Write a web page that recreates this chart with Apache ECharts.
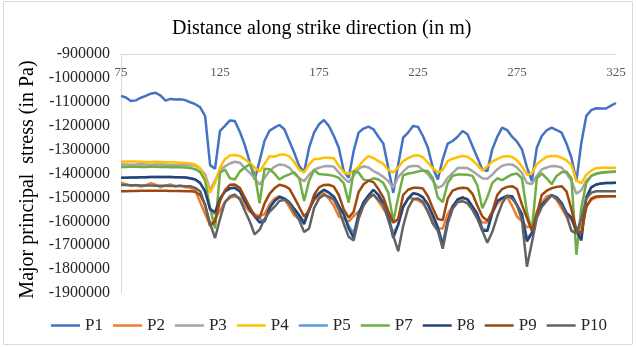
<!DOCTYPE html>
<html>
<head>
<meta charset="utf-8">
<script src="https://cdn.jsdelivr.net/npm/echarts@6/dist/echarts.min.js"></script>
<style>
  html, body { margin: 0; padding: 0; background: #fff; }
  #chart { width: 636px; height: 347px; }
</style>
</head>
<body>
<div id="chart"></div>
<script>
// distance along strike (m)
var distance = [
  75, 77.5, 80, 82.5, 85, 87.5, 90, 92.5, 95, 97.5,
  100, 102.5, 105, 107.5, 110, 112.5, 115, 117.5, 120, 122.5,
  125, 127.5, 130, 132.5, 135, 137.5, 140, 142.5, 145, 147.5,
  150, 152.5, 155, 157.5, 160, 162.5, 165, 167.5, 170, 172.5,
  175, 177.5, 180, 182.5, 185, 187.5, 190, 192.5, 195, 197.5,
  200, 202.5, 205, 207.5, 210, 212.5, 215, 217.5, 220, 222.5,
  225, 227.5, 230, 232.5, 235, 237.5, 240, 242.5, 245, 247.5,
  250, 252.5, 255, 257.5, 260, 262.5, 265, 267.5, 270, 272.5,
  275, 277.5, 280, 282.5, 285, 287.5, 290, 292.5, 295, 297.5,
  300, 302.5, 305, 307.5, 310, 312.5, 315, 317.5, 320, 322.5,
  325
];
var xTicks = [75, 125, 175, 225, 275, 325];

// major principal stress (Pa)
var p1 = [
  -1075e3, -1082e3, -1097e3, -1094e3, -1083e3, -1075e3, -1066e3, -1062e3, -1074e3, -1095e3,
  -1088e3, -1090e3, -1089e3, -1093e3, -1102e3, -1110e3, -1123e3, -1160e3, -1365e3, -1380e3,
  -1222e3, -1201e3, -1178e3, -1180e3, -1225e3, -1280e3, -1351e3, -1425e3, -1347e3, -1263e3,
  -1221e3, -1208e3, -1197e3, -1215e3, -1264e3, -1313e3, -1369e3, -1393e3, -1292e3, -1229e3,
  -1194e3, -1176e3, -1201e3, -1243e3, -1292e3, -1390e3, -1418e3, -1306e3, -1229e3, -1212e3,
  -1204e3, -1215e3, -1246e3, -1275e3, -1376e3, -1481e3, -1362e3, -1250e3, -1229e3, -1201e3,
  -1205e3, -1243e3, -1292e3, -1376e3, -1425e3, -1341e3, -1275e3, -1264e3, -1246e3, -1222e3,
  -1236e3, -1285e3, -1334e3, -1383e3, -1390e3, -1299e3, -1247e3, -1208e3, -1218e3, -1246e3,
  -1267e3, -1299e3, -1373e3, -1432e3, -1292e3, -1243e3, -1219e3, -1208e3, -1218e3, -1229e3,
  -1275e3, -1334e3, -1432e3, -1271e3, -1159e3, -1135e3, -1127e3, -1128e3, -1128e3, -1116e3,
  -1105e3
];
var p2 = [
  -1439e3, -1445e3, -1452e3, -1448e3, -1455e3, -1450e3, -1440e3, -1447e3, -1458e3, -1450e3,
  -1446e3, -1455e3, -1450e3, -1458e3, -1460e3, -1470e3, -1520e3, -1570e3, -1615e3, -1590e3,
  -1555e3, -1520e3, -1502e3, -1495e3, -1502e3, -1535e3, -1560e3, -1572e3, -1578e3, -1570e3,
  -1530e3, -1505e3, -1495e3, -1505e3, -1540e3, -1575e3, -1590e3, -1600e3, -1550e3, -1512e3,
  -1495e3, -1482e3, -1505e3, -1535e3, -1580e3, -1590e3, -1600e3, -1578e3, -1560e3, -1530e3,
  -1505e3, -1488e3, -1515e3, -1548e3, -1578e3, -1605e3, -1590e3, -1540e3, -1503e3, -1505e3,
  -1512e3, -1525e3, -1558e3, -1595e3, -1630e3, -1630e3, -1570e3, -1535e3, -1515e3, -1505e3,
  -1508e3, -1545e3, -1578e3, -1605e3, -1605e3, -1565e3, -1528e3, -1505e3, -1498e3, -1535e3,
  -1580e3, -1600e3, -1625e3, -1620e3, -1560e3, -1522e3, -1495e3, -1492e3, -1510e3, -1545e3,
  -1580e3, -1592e3, -1640e3, -1625e3, -1540e3, -1510e3, -1500e3, -1497e3, -1496e3, -1495e3,
  -1495e3
];
var p3 = [
  -1362e3, -1362e3, -1363e3, -1362e3, -1361e3, -1362e3, -1363e3, -1362e3, -1362e3, -1363e3,
  -1364e3, -1364e3, -1365e3, -1365e3, -1366e3, -1367e3, -1380e3, -1404e3, -1470e3, -1430e3,
  -1385e3, -1370e3, -1358e3, -1351e3, -1355e3, -1376e3, -1397e3, -1420e3, -1446e3, -1418e3,
  -1390e3, -1372e3, -1362e3, -1365e3, -1375e3, -1400e3, -1420e3, -1432e3, -1405e3, -1385e3,
  -1376e3, -1370e3, -1369e3, -1372e3, -1395e3, -1418e3, -1437e3, -1410e3, -1380e3, -1370e3,
  -1375e3, -1390e3, -1400e3, -1414e3, -1432e3, -1460e3, -1415e3, -1392e3, -1372e3, -1369e3,
  -1369e3, -1385e3, -1403e3, -1430e3, -1460e3, -1450e3, -1418e3, -1398e3, -1377e3, -1376e3,
  -1377e3, -1390e3, -1405e3, -1420e3, -1422e3, -1405e3, -1383e3, -1368e3, -1362e3, -1362e3,
  -1375e3, -1398e3, -1440e3, -1444e3, -1410e3, -1383e3, -1375e3, -1369e3, -1370e3, -1375e3,
  -1400e3, -1430e3, -1485e3, -1470e3, -1430e3, -1410e3, -1402e3, -1398e3, -1396e3, -1394e3,
  -1393e3
];
var p4 = [
  -1351e3, -1350e3, -1350e3, -1350e3, -1351e3, -1352e3, -1352e3, -1351e3, -1352e3, -1353e3,
  -1353e3, -1354e3, -1355e3, -1356e3, -1358e3, -1362e3, -1378e3, -1420e3, -1481e3, -1440e3,
  -1375e3, -1340e3, -1325e3, -1323e3, -1327e3, -1340e3, -1355e3, -1375e3, -1392e3, -1360e3,
  -1328e3, -1330e3, -1322e3, -1320e3, -1328e3, -1352e3, -1385e3, -1395e3, -1362e3, -1340e3,
  -1338e3, -1334e3, -1334e3, -1336e3, -1368e3, -1395e3, -1402e3, -1390e3, -1372e3, -1345e3,
  -1327e3, -1335e3, -1348e3, -1360e3, -1385e3, -1395e3, -1375e3, -1348e3, -1336e3, -1326e3,
  -1324e3, -1332e3, -1355e3, -1378e3, -1396e3, -1385e3, -1348e3, -1338e3, -1332e3, -1327e3,
  -1330e3, -1345e3, -1365e3, -1388e3, -1370e3, -1350e3, -1340e3, -1330e3, -1327e3, -1331e3,
  -1345e3, -1370e3, -1405e3, -1400e3, -1360e3, -1345e3, -1330e3, -1327e3, -1327e3, -1334e3,
  -1345e3, -1365e3, -1430e3, -1440e3, -1405e3, -1388e3, -1377e3, -1376e3, -1376e3, -1376e3,
  -1376e3
];
var p5 = [
  -1418e3, -1418e3, -1417e3, -1417e3, -1416e3, -1416e3, -1415e3, -1415e3, -1415e3, -1415e3,
  -1415e3, -1416e3, -1416e3, -1417e3, -1420e3, -1425e3, -1440e3, -1475e3, -1545e3, -1570e3,
  -1505e3, -1475e3, -1462e3, -1460e3, -1474e3, -1515e3, -1550e3, -1570e3, -1590e3, -1600e3,
  -1545e3, -1515e3, -1498e3, -1505e3, -1520e3, -1548e3, -1575e3, -1600e3, -1552e3, -1505e3,
  -1484e3, -1468e3, -1480e3, -1497e3, -1535e3, -1570e3, -1620e3, -1650e3, -1570e3, -1520e3,
  -1492e3, -1468e3, -1490e3, -1525e3, -1580e3, -1650e3, -1614e3, -1540e3, -1505e3, -1483e3,
  -1487e3, -1500e3, -1530e3, -1575e3, -1625e3, -1690e3, -1600e3, -1540e3, -1508e3, -1500e3,
  -1508e3, -1538e3, -1570e3, -1630e3, -1640e3, -1565e3, -1515e3, -1503e3, -1494e3, -1495e3,
  -1532e3, -1570e3, -1670e3, -1650e3, -1575e3, -1530e3, -1510e3, -1490e3, -1500e3, -1523e3,
  -1565e3, -1585e3, -1640e3, -1670e3, -1500e3, -1458e3, -1446e3, -1442e3, -1440e3, -1440e3,
  -1439e3
];
var p7 = [
  -1373e3, -1373e3, -1372e3, -1372e3, -1373e3, -1373e3, -1372e3, -1372e3, -1373e3, -1373e3,
  -1374e3, -1374e3, -1374e3, -1375e3, -1377e3, -1382e3, -1394e3, -1430e3, -1545e3, -1630e3,
  -1397e3, -1383e3, -1420e3, -1425e3, -1392e3, -1375e3, -1362e3, -1400e3, -1525e3, -1380e3,
  -1382e3, -1400e3, -1425e3, -1412e3, -1404e3, -1395e3, -1420e3, -1515e3, -1430e3, -1385e3,
  -1402e3, -1404e3, -1406e3, -1410e3, -1418e3, -1440e3, -1522e3, -1390e3, -1396e3, -1425e3,
  -1430e3, -1420e3, -1425e3, -1440e3, -1480e3, -1600e3, -1500e3, -1408e3, -1400e3, -1397e3,
  -1392e3, -1388e3, -1390e3, -1420e3, -1500e3, -1520e3, -1440e3, -1410e3, -1404e3, -1404e3,
  -1405e3, -1410e3, -1450e3, -1545e3, -1500e3, -1440e3, -1420e3, -1428e3, -1415e3, -1404e3,
  -1400e3, -1420e3, -1560e3, -1640e3, -1420e3, -1400e3, -1420e3, -1445e3, -1410e3, -1395e3,
  -1393e3, -1420e3, -1740e3, -1543e3, -1440e3, -1410e3, -1400e3, -1396e3, -1394e3, -1393e3,
  -1392e3
];
var p8 = [
  -1418e3, -1418e3, -1417e3, -1417e3, -1416e3, -1416e3, -1415e3, -1415e3, -1415e3, -1415e3,
  -1415e3, -1416e3, -1416e3, -1417e3, -1420e3, -1425e3, -1440e3, -1475e3, -1550e3, -1562e3,
  -1505e3, -1475e3, -1462e3, -1460e3, -1474e3, -1515e3, -1550e3, -1580e3, -1605e3, -1600e3,
  -1545e3, -1515e3, -1498e3, -1505e3, -1520e3, -1548e3, -1575e3, -1612e3, -1552e3, -1505e3,
  -1484e3, -1468e3, -1480e3, -1497e3, -1535e3, -1570e3, -1630e3, -1670e3, -1570e3, -1520e3,
  -1492e3, -1468e3, -1490e3, -1525e3, -1580e3, -1670e3, -1614e3, -1540e3, -1505e3, -1483e3,
  -1487e3, -1500e3, -1530e3, -1575e3, -1625e3, -1705e3, -1600e3, -1540e3, -1508e3, -1500e3,
  -1508e3, -1538e3, -1570e3, -1640e3, -1640e3, -1565e3, -1515e3, -1503e3, -1494e3, -1495e3,
  -1532e3, -1570e3, -1684e3, -1650e3, -1575e3, -1530e3, -1510e3, -1490e3, -1500e3, -1523e3,
  -1565e3, -1585e3, -1640e3, -1680e3, -1500e3, -1458e3, -1446e3, -1442e3, -1440e3, -1440e3,
  -1439e3
];
var p9 = [
  -1474e3, -1474e3, -1473e3, -1473e3, -1472e3, -1472e3, -1472e3, -1472e3, -1472e3, -1472e3,
  -1473e3, -1473e3, -1473e3, -1474e3, -1474e3, -1476e3, -1490e3, -1530e3, -1620e3, -1600e3,
  -1515e3, -1470e3, -1447e3, -1446e3, -1460e3, -1500e3, -1540e3, -1578e3, -1586e3, -1525e3,
  -1485e3, -1462e3, -1447e3, -1452e3, -1463e3, -1500e3, -1540e3, -1580e3, -1555e3, -1490e3,
  -1458e3, -1448e3, -1447e3, -1455e3, -1490e3, -1550e3, -1585e3, -1560e3, -1478e3, -1445e3,
  -1430e3, -1436e3, -1465e3, -1500e3, -1558e3, -1605e3, -1590e3, -1490e3, -1468e3, -1460e3,
  -1460e3, -1463e3, -1495e3, -1545e3, -1590e3, -1595e3, -1505e3, -1472e3, -1463e3, -1460e3,
  -1462e3, -1485e3, -1535e3, -1580e3, -1598e3, -1560e3, -1490e3, -1465e3, -1456e3, -1453e3,
  -1465e3, -1530e3, -1585e3, -1640e3, -1570e3, -1490e3, -1472e3, -1462e3, -1456e3, -1453e3,
  -1475e3, -1550e3, -1635e3, -1650e3, -1540e3, -1505e3, -1496e3, -1495e3, -1495e3, -1495e3,
  -1495e3
];
var p10 = [
  -1448e3, -1448e3, -1449e3, -1449e3, -1450e3, -1450e3, -1450e3, -1451e3, -1451e3, -1451e3,
  -1452e3, -1452e3, -1452e3, -1453e3, -1453e3, -1460e3, -1474e3, -1535e3, -1610e3, -1670e3,
  -1590e3, -1520e3, -1496e3, -1488e3, -1508e3, -1555e3, -1600e3, -1655e3, -1635e3, -1590e3,
  -1560e3, -1540e3, -1515e3, -1510e3, -1525e3, -1560e3, -1595e3, -1645e3, -1630e3, -1545e3,
  -1505e3, -1490e3, -1497e3, -1510e3, -1550e3, -1610e3, -1665e3, -1680e3, -1590e3, -1535e3,
  -1503e3, -1488e3, -1510e3, -1530e3, -1595e3, -1660e3, -1725e3, -1620e3, -1545e3, -1508e3,
  -1505e3, -1518e3, -1560e3, -1610e3, -1640e3, -1715e3, -1610e3, -1548e3, -1520e3, -1516e3,
  -1525e3, -1552e3, -1590e3, -1640e3, -1690e3, -1645e3, -1580e3, -1525e3, -1492e3, -1505e3,
  -1532e3, -1595e3, -1790e3, -1690e3, -1586e3, -1540e3, -1515e3, -1490e3, -1505e3, -1530e3,
  -1575e3, -1640e3, -1650e3, -1590e3, -1505e3, -1480e3, -1474e3, -1474e3, -1474e3, -1474e3,
  -1474e3
];

var names = ['P1', 'P2', 'P3', 'P4', 'P5', 'P7', 'P8', 'P9', 'P10'];
var values = [p1, p2, p3, p4, p5, p7, p8, p9, p10];
var colors = ['#4472C4', '#ED7D31', '#A5A5A5', '#FFC000', '#5B9BD5', '#70AD47', '#264478', '#9E480E', '#636363'];

var serif = 'Liberation Serif';

function toPairs(ys) {
    return distance.map(function (d, i) { return [d, ys[i]]; });
}

var series = names.map(function (name, k) {
    return {
        name: name,
        type: 'line',
        data: toPairs(values[k]),
        showSymbol: false,
        symbol: 'none',
        color: colors[k],
        lineStyle: { width: 2.5, color: colors[k] },
        emphasis: { disabled: true },
        animation: false
    };
});

var option = {
    animation: false,
    title: {
        text: 'Distance along strike direction (in m)',
        left: 172,
        top: 19,
        padding: 0,
        textStyle: { fontFamily: serif, fontSize: 20, fontWeight: 'normal', color: '#000' }
    },
    grid: { left: 121, right: 20, top: 54, bottom: 54 },
    legend: {
        data: names,
        top: 312,
        left: 46,
        icon: 'rect',
        itemWidth: 29,
        itemHeight: 2.5,
        itemGap: 10,
        textStyle: { fontFamily: serif, fontSize: 17, color: '#262626' }
    },
    xAxis: {
        type: 'value',
        position: 'top',
        min: 75,
        max: 325,
        axisLine: { show: true, onZero: false, lineStyle: { color: '#d9d9d9' } },
        axisTick: { show: false },
        splitLine: { show: false },
        axisLabel: {
            inside: true,
            margin: 12,
            customValues: xTicks,
            color: '#595959',
            fontFamily: serif,
            fontSize: 13
        }
    },
    yAxis: {
        type: 'value',
        min: -1900000,
        max: -900000,
        interval: 100000,
        name: 'Major principal  stress (in Pa)',
        nameLocation: 'middle',
        nameGap: 81,
        nameTextStyle: { fontFamily: serif, fontSize: 20, color: '#000', padding: [0, 12, 0, 0] },
        axisLine: { show: true, onZero: false, lineStyle: { color: '#d9d9d9' } },
        axisTick: { show: false },
        splitLine: { show: false },
        axisLabel: {
            margin: 11,
            color: '#262626',
            fontFamily: serif,
            fontSize: 16,
            formatter: function (v) { return String(v); }
        }
    },
    graphic: [{
        type: 'rect',
        shape: { x: 3.5, y: 1.5, width: 629, height: 343 },
        style: { fill: 'none', stroke: '#d9d9d9', lineWidth: 1 },
        silent: true
    }],
    series: series
};

var myChart = echarts.init(document.getElementById('chart'));
myChart.setOption(option);
</script>
</body>
</html>
